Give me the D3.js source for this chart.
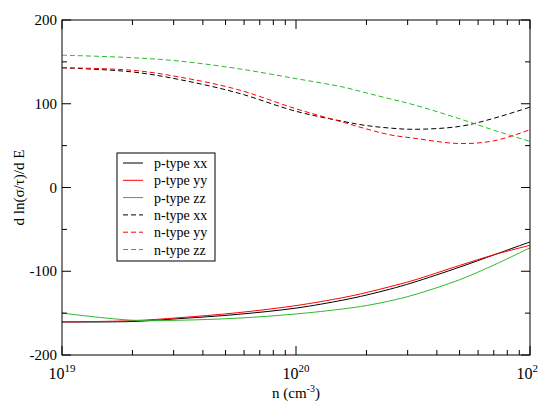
<!DOCTYPE html><html><head><meta charset="utf-8"><script src="https://cdn.jsdelivr.net/npm/d3@7"></script>
<style>body{margin:0;background:#fff}text{font-family:"Liberation Serif","DejaVu Serif",serif;}</style></head><body><svg id="c" width="538" height="401"></svg>
<script>
const decades=[0,0.3,0.5,0.75,1,1.2,1.3,1.4,1.5,1.7,1.85,2];
const nxx=[143,138,129,113,91,79,74,71,69.5,73,83,96];
const nyy=[143,140,132,117,94,78,70,63,59,52.5,56,69];
const nzz=[158,155,151,142,130,120,113,106,99,82,68,55];
const pxx=[-160.5,-160,-156.6,-151.5,-144,-134.5,-128.5,-121.5,-113.5,-95,-80,-65];
const pyy=[-160.5,-159,-155.5,-149.5,-141,-131.5,-125.5,-118.5,-111,-93,-80,-69];
const pzz=[-150,-158.5,-158.5,-156,-151,-145,-141,-135.5,-128.5,-110,-92,-72];
const series=[["p-type xx",pxx,"#000",false],["p-type yy",pyy,"#f00",false],["p-type zz",pzz,"#2db82d",false],["n-type xx",nxx,"#000",true],["n-type yy",nyy,"#f00",true],["n-type zz",nzz,"#2db82d",true]];
const svg=d3.select("#c");
const L=62,R=530,T=20,B=355;
const x=d3.scaleLog().domain([1e19,1e21]).range([L,R]);
const y=d3.scaleLinear().domain([-200,200]).range([B,T]);
const line=d3.line().curve(d3.curveCatmullRom).x(d=>x(Math.pow(10,19+d[0]))).y(d=>y(d[1]));
const g=svg.append("g");
series.forEach(([n,v,c,dash])=>{g.append("path").attr("d",line(decades.map((d,i)=>[d,v[i]]))).attr("fill","none").attr("stroke",c).attr("stroke-width",1).attr("stroke-dasharray",dash?"5,3":null);});
svg.append("rect").attr("x",L).attr("y",T).attr("width",R-L).attr("height",B-T).attr("fill","none").attr("stroke","#000");
const xt=[];for(let e=19;e<21;e++)for(let m=1;m<10;m++)xt.push(m*Math.pow(10,e));xt.push(1e21);
xt.forEach(v=>{const maj=Math.abs(Math.log10(v)%1)<1e-9;const l=maj?9:5;
svg.append("line").attr("x1",x(v)).attr("x2",x(v)).attr("y1",B).attr("y2",B-l).attr("stroke","#000");
svg.append("line").attr("x1",x(v)).attr("x2",x(v)).attr("y1",T).attr("y2",T+l).attr("stroke","#000");});
[19,20,21].forEach(e=>{const t=svg.append("text").attr("x",x(Math.pow(10,e))).attr("y",B+24).attr("text-anchor","middle").attr("font-size",16);t.append("tspan").text("10");t.append("tspan").attr("dy",-7).attr("font-size",11).text(e);});
d3.range(-200,201,50).forEach(v=>{const maj=v%100===0;const l=maj?9:5;
svg.append("line").attr("x1",L).attr("x2",L+l).attr("y1",y(v)).attr("y2",y(v)).attr("stroke","#000");
svg.append("line").attr("x1",R).attr("x2",R-l).attr("y1",y(v)).attr("y2",y(v)).attr("stroke","#000");
if(maj)svg.append("text").attr("x",L-5).attr("y",y(v)+5).attr("text-anchor","end").attr("font-size",15).text(v);});
const xl=svg.append("text").attr("x",x(1e20)).attr("y",398).attr("text-anchor","middle").attr("font-size",15);
xl.append("tspan").text("n (cm");xl.append("tspan").attr("dy",-6).attr("font-size",10).text("-3");xl.append("tspan").attr("dy",6).text(")");
svg.append("text").attr("transform",`translate(24,${(T+B)/2}) rotate(-90)`).attr("text-anchor","middle").attr("font-size",15).text("d ln(σ/τ)/d E");
const lg=svg.append("g");
lg.append("rect").attr("x",117).attr("y",153).attr("width",98).attr("height",108).attr("fill","#fff").attr("stroke","#000");
series.forEach(([n,v,c,dash],i)=>{const yy=163+i*17.3;
lg.append("line").attr("x1",123).attr("x2",143).attr("y1",yy).attr("y2",yy).attr("stroke",c).attr("stroke-dasharray",dash?"5,3":null);
lg.append("text").attr("x",154).attr("y",yy+5).attr("font-size",14).text(n);});
</script></body></html>
